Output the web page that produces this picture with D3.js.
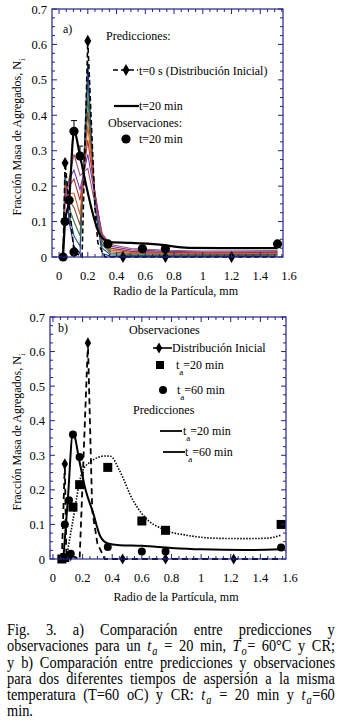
<!DOCTYPE html>
<html>
<head>
<meta charset="utf-8">
<script src="https://cdn.jsdelivr.net/npm/d3@7"></script>
<style>
  body { margin: 0; background: #fff; }
  svg { display: block; }
  text { font-family: "Liberation Serif", "Times New Roman", Times, serif; fill: #000; }
</style>
</head>
<body>
<div id="chart"></div>
<script>
// ---- data ----
const xTicks = [0, 0.2, 0.4, 0.6, 0.8, 1, 1.2, 1.4, 1.6];
const yTicks = [0, 0.1, 0.2, 0.3, 0.4, 0.5, 0.6, 0.7];

// panel a) initial distribution (dashed, diamonds)
const aInitX    = [0.028, 0.042, 0.104, 0.16, 0.2, 0.25, 0.27, 0.32, 0.445, 0.74, 1.2, 1.52];
const aInitY    = [0, 0.265, 0.015, 0, 0.61, 0.14, 0.04, 0, 0, 0, 0, 0];
const aInitMark = [0, 1, 1, 0, 1, 0, 0, 0, 1, 1, 1, 0];
// panel a) prediction t = 20 min
const aPredX = [0.028, 0.042, 0.07, 0.104, 0.146, 0.19, 0.23, 0.27, 0.31, 0.36, 0.5, 0.7, 0.9, 1.2, 1.52];
const aPredY = [0, 0.1, 0.16, 0.355, 0.285, 0.2, 0.13, 0.075, 0.05, 0.042, 0.04, 0.035, 0.026, 0.025, 0.025];
// panel a) observations t = 20 min
const aObsX   = [0.028, 0.042, 0.07, 0.104, 0.146, 0.104, 0.34, 0.58, 0.74, 1.52];
const aObsY   = [0, 0.1, 0.16, 0.355, 0.285, 0.014, 0.037, 0.023, 0.023, 0.037];
const aObsErr = [0, 0, 0, 0.03, 0.028, 0, 0, 0, 0, 0];
// panel a) intermediate time steps of the prediction
const aStepX = [0.028, 0.042, 0.07, 0.104, 0.146, 0.2, 0.25, 0.3, 0.36, 0.5, 0.75, 1.0, 1.52];
const aStepY = [
  [0, 0.24, 0.10, 0.03, 0.01, 0.55, 0.14, 0.010, 0.002, 0.001, 0.001, 0.001, 0.002],
  [0, 0.23, 0.12, 0.06, 0.03, 0.50, 0.16, 0.025, 0.006, 0.004, 0.004, 0.004, 0.005],
  [0, 0.22, 0.14, 0.10, 0.06, 0.45, 0.17, 0.035, 0.010, 0.007, 0.006, 0.006, 0.007],
  [0, 0.21, 0.16, 0.14, 0.09, 0.41, 0.18, 0.045, 0.015, 0.010, 0.009, 0.008, 0.009],
  [0, 0.20, 0.18, 0.18, 0.12, 0.37, 0.18, 0.055, 0.020, 0.013, 0.011, 0.010, 0.011],
  [0, 0.19, 0.20, 0.22, 0.16, 0.33, 0.18, 0.060, 0.025, 0.016, 0.013, 0.012, 0.013],
  [0, 0.17, 0.22, 0.245, 0.19, 0.29, 0.17, 0.065, 0.030, 0.020, 0.016, 0.014, 0.015],
  [0, 0.15, 0.22, 0.29, 0.23, 0.25, 0.15, 0.065, 0.035, 0.024, 0.019, 0.017, 0.018]
];
const aStepColors = ["#1a2a9c", "#2a5e6c", "#3a6e44", "#7a4a30", "#c8642c", "#b83030", "#6a3aa8", "#a85070"];

// panel b) initial distribution
const bInitX    = [0.06, 0.08, 0.09, 0.12, 0.18, 0.236, 0.265, 0.3, 0.35, 0.47, 0.76, 1.22, 1.54];
const bInitY    = [0, 0.275, 0.02, 0.01, 0, 0.625, 0.14, 0.045, 0, 0, 0, 0, 0];
const bInitMark = [0, 1, 0, 1, 0, 1, 0, 0, 0, 1, 1, 1, 0];
// panel b) observations
const bObs20X = [0.06, 0.08, 0.135, 0.18, 0.37, 0.6, 0.76, 1.54];
const bObs20Y = [0, 0.004, 0.15, 0.215, 0.265, 0.11, 0.083, 0.1];
const bObs60X = [0.07, 0.08, 0.108, 0.12, 0.135, 0.18, 0.37, 0.6, 0.76, 1.54];
const bObs60Y = [0, 0.1, 0.17, 0.015, 0.36, 0.295, 0.035, 0.022, 0.022, 0.033];
// panel b) predictions
const bPred20X = [0.09, 0.13, 0.2, 0.25, 0.3, 0.35, 0.39, 0.45, 0.54, 0.61, 0.76, 0.9, 1.1, 1.3, 1.44, 1.54];
const bPred20Y = [0, 0.1, 0.255, 0.28, 0.293, 0.298, 0.297, 0.255, 0.17, 0.126, 0.083, 0.069, 0.06, 0.059, 0.06, 0.069];
const bPred60X = [0.07, 0.1, 0.135, 0.18, 0.22, 0.27, 0.32, 0.37, 0.45, 0.6, 0.8, 1.0, 1.3, 1.54];
const bPred60Y = [0, 0.17, 0.365, 0.28, 0.2, 0.135, 0.065, 0.045, 0.04, 0.038, 0.032, 0.028, 0.026, 0.028];

const W = 338, H = 728;
const frameColor = "#23238c";

const svg = d3.select("#chart").append("svg")
    .attr("width", W).attr("height", H)
    .attr("font-family", "'Liberation Serif', 'Times New Roman', Times, serif")
    .style("background", "#fff");

const zip = (xs, ys) => xs.map((x, i) => [x, ys[i]]);

// frame, ticks and labels of one panel
function drawFrame(x, y, yTitleY, xTitleY) {
    const g = svg.append("g");
    const [x0, x1] = x.range(), [y1, y0] = y.range();
    g.append("rect")
        .attr("x", x0).attr("y", y0)
        .attr("width", x1 - x0).attr("height", y1 - y0)
        .attr("fill", "none").attr("stroke", frameColor).attr("stroke-width", 1.2);

    // y ticks every 0.025, major every 0.1
    d3.range(0, 0.7001, 0.025).forEach((v, i) => {
        const len = i % 4 === 0 ? 5 : 3;
        const py = y(v);
        g.append("line").attr("x1", x0).attr("x2", x0 + len).attr("y1", py).attr("y2", py)
            .attr("stroke", frameColor);
        g.append("line").attr("x1", x1).attr("x2", x1 - len).attr("y1", py).attr("y2", py)
            .attr("stroke", frameColor);
    });
    // x ticks every 0.05, major every 0.2
    d3.range(0, 1.6001, 0.05).forEach((v, i) => {
        const px = x(v);
        if (px < x0 || px > x1) return;
        const len = i % 4 === 0 ? 5 : 3;
        g.append("line").attr("x1", px).attr("x2", px).attr("y1", y0).attr("y2", y0 + len)
            .attr("stroke", frameColor);
        g.append("line").attr("x1", px).attr("x2", px).attr("y1", y1).attr("y2", y1 - len)
            .attr("stroke", frameColor);
    });

    const fmt = d3.format("~g");
    g.selectAll(".yl").data(yTicks).enter().append("text")
        .attr("x", x0 - 5).attr("y", d => y(d) + 4.5)
        .attr("text-anchor", "end").attr("font-size", 12.5)
        .text(fmt);
    g.selectAll(".xl").data(xTicks).enter().append("text")
        .attr("x", d => x(d)).attr("y", y1 + 23)
        .attr("text-anchor", "middle").attr("font-size", 12.5)
        .text(fmt);

    g.append("text")
        .attr("x", (x0 + x1) / 2 + 8).attr("y", xTitleY)
        .attr("text-anchor", "middle").attr("font-size", 12)
        .text("Radio de la Partícula, mm");

    const yt = g.append("text")
        .attr("transform", `translate(21, ${yTitleY}) rotate(-90)`)
        .attr("text-anchor", "middle").attr("font-size", 12);
    yt.append("tspan").text("Fracción Masa de Agregados, N");
    yt.append("tspan").attr("dy", 4).attr("font-size", 9).text("i");
    return g;
}

// text with a subscript: parts = [[text, isSub], ...]
function subText(g, px, py, parts, size) {
    const t = g.append("text").attr("x", px).attr("y", py).attr("font-size", size);
    let shifted = false;
    parts.forEach(([s, sub]) => {
        const sp = t.append("tspan").text(s);
        if (sub && !shifted) { sp.attr("dy", 6).attr("font-size", size * 0.75); shifted = true; }
        else if (!sub && shifted) { sp.attr("dy", -6); shifted = false; }
    });
    return t;
}

const diamond = d3.symbol().type(d3.symbolDiamond);

// ================= panel a =================
const xa = d3.scaleLinear().domain([-0.049, 1.558]).range([52, 283]);
const ya = d3.scaleLinear().domain([0, 0.7]).range([257, 9]);
const gA = svg.append("g");
const lineA = d3.line().x(d => xa(d[0])).y(d => ya(d[1]));

aStepY.forEach((ys, i) => {
    gA.append("path").datum(zip(aStepX, ys))
        .attr("d", lineA).attr("fill", "none")
        .attr("stroke", aStepColors[i]).attr("stroke-width", 1.1);
});
gA.append("path").datum(zip(aInitX, aInitY))
    .attr("d", lineA).attr("fill", "none")
    .attr("stroke", "#000").attr("stroke-width", 1.6).attr("stroke-dasharray", "5,3");
gA.selectAll(".dmA").data(zip(aInitX, aInitY).filter((d, i) => aInitMark[i])).enter()
    .append("path").attr("d", diamond.size(42)())
    .attr("transform", d => `translate(${xa(d[0])},${ya(d[1])})`).attr("fill", "#000");
gA.append("path").datum(zip(aPredX, aPredY))
    .attr("d", lineA.curve(d3.curveMonotoneX)).attr("fill", "none")
    .attr("stroke", "#000").attr("stroke-width", 2.2);
lineA.curve(d3.curveLinear);
// error bars
aObsX.forEach((xv, i) => {
    if (!aObsErr[i]) return;
    const top = ya(aObsY[i] + aObsErr[i]);
    gA.append("line").attr("x1", xa(xv)).attr("x2", xa(xv))
        .attr("y1", ya(aObsY[i])).attr("y2", top).attr("stroke", "#000");
    gA.append("line").attr("x1", xa(xv) - 3).attr("x2", xa(xv) + 3)
        .attr("y1", top).attr("y2", top).attr("stroke", "#000");
});
gA.selectAll(".obA").data(zip(aObsX, aObsY)).enter().append("circle")
    .attr("cx", d => xa(d[0])).attr("cy", d => ya(d[1])).attr("r", 4.6).attr("fill", "#000");

drawFrame(xa, ya, 137, 295);

// legend a
gA.append("text").attr("x", 63).attr("y", 33).attr("font-size", 12).text("a)");
gA.append("text").attr("x", 106).attr("y", 40).attr("font-size", 12).text("Predicciones:");
gA.append("line").attr("x1", 113).attr("x2", 138).attr("y1", 70).attr("y2", 70)
    .attr("stroke", "#000").attr("stroke-width", 1.6).attr("stroke-dasharray", "5,3");
gA.append("path").attr("d", diamond.size(42)()).attr("transform", "translate(126,70)");
gA.append("text").attr("x", 139).attr("y", 75).attr("font-size", 12).text("t=0 s (Distribución Inicial)");
gA.append("line").attr("x1", 114).attr("x2", 139).attr("y1", 106).attr("y2", 106)
    .attr("stroke", "#000").attr("stroke-width", 2.2);
gA.append("text").attr("x", 139).attr("y", 110).attr("font-size", 12).text("t=20 min");
gA.append("text").attr("x", 108).attr("y", 127).attr("font-size", 12).text("Observaciones:");
gA.append("circle").attr("cx", 126).attr("cy", 139).attr("r", 4.6);
gA.append("text").attr("x", 139).attr("y", 143).attr("font-size", 12).text("t=20 min");

// ================= panel b =================
const xb = d3.scaleLinear().domain([-0.02, 1.573]).range([50, 286]);
const yb = d3.scaleLinear().domain([0, 0.7]).range([559, 317]);
const gB = svg.append("g");
const lineB = d3.line().x(d => xb(d[0])).y(d => yb(d[1]));

gB.append("path").datum(zip(bInitX, bInitY))
    .attr("d", lineB).attr("fill", "none")
    .attr("stroke", "#000").attr("stroke-width", 1.8).attr("stroke-dasharray", "6,4");
gB.append("path").datum(zip(bPred20X, bPred20Y))
    .attr("d", d3.line().x(d => xb(d[0])).y(d => yb(d[1])).curve(d3.curveMonotoneX))
    .attr("fill", "none").attr("stroke", "#000").attr("stroke-width", 1.6)
    .attr("stroke-dasharray", "1.5,1.5");
gB.append("path").datum(zip(bPred60X, bPred60Y))
    .attr("d", d3.line().x(d => xb(d[0])).y(d => yb(d[1])).curve(d3.curveMonotoneX))
    .attr("fill", "none").attr("stroke", "#000").attr("stroke-width", 2);
gB.selectAll(".dmB").data(zip(bInitX, bInitY).filter((d, i) => bInitMark[i])).enter()
    .append("path").attr("d", diamond.size(36)())
    .attr("transform", d => `translate(${xb(d[0])},${yb(d[1])})`).attr("fill", "#000");
gB.selectAll(".sqB").data(zip(bObs20X, bObs20Y)).enter().append("rect")
    .attr("x", d => xb(d[0]) - 4.5).attr("y", d => yb(d[1]) - 4.5)
    .attr("width", 9).attr("height", 9).attr("fill", "#000");
gB.selectAll(".ciB").data(zip(bObs60X, bObs60Y)).enter().append("circle")
    .attr("cx", d => xb(d[0])).attr("cy", d => yb(d[1])).attr("r", 4).attr("fill", "#000");

drawFrame(xb, yb, 432, 601);

// legend b
gB.append("text").attr("x", 58).attr("y", 332).attr("font-size", 12).text("b)");
gB.append("text").attr("x", 129).attr("y", 334).attr("font-size", 12).text("Observaciones");
gB.append("line").attr("x1", 153).attr("x2", 172).attr("y1", 348).attr("y2", 348)
    .attr("stroke", "#000").attr("stroke-width", 1.6);
gB.append("path").attr("d", diamond.size(36)()).attr("transform", "translate(159,348)");
gB.append("text").attr("x", 172).attr("y", 352).attr("font-size", 12).text("Distribución Inicial");
gB.append("rect").attr("x", 156).attr("y", 361).attr("width", 8).attr("height", 8);
subText(gB, 176, 369, [["t", false], ["a", true], ["=20 min", false]], 12);
gB.append("circle").attr("cx", 163).attr("cy", 390).attr("r", 4);
subText(gB, 177, 394, [["t", false], ["a", true], ["=60 min", false]], 12);
gB.append("text").attr("x", 133).attr("y", 414).attr("font-size", 12).text("Predicciones");
gB.append("line").attr("x1", 160).attr("x2", 182).attr("y1", 431).attr("y2", 431)
    .attr("stroke", "#000").attr("stroke-width", 1.8);
subText(gB, 183, 435, [["t", false], ["a", true], ["=20 min", false]], 12);
gB.append("line").attr("x1", 163).attr("x2", 185).attr("y1", 452).attr("y2", 452)
    .attr("stroke", "#000").attr("stroke-width", 1.8);
subText(gB, 185, 456, [["t", false], ["a", true], ["=60 min", false]], 12);

// ================= caption (justified word by word) =================
const capLines = [
    ["Fig.", "3.", "a)", "Comparación", "entre", "predicciones", "y"],
    ["observaciones", "para", "un", [["t", "i"], ["a", "si"]], "=", "20", "min,",
        [["T", "i"], ["o", "si"], ["=", ""]], "60°C", "y", "CR;"],
    ["y", "b)", "Comparación", "entre", "predicciones", "y", "observaciones"],
    ["para", "dos", "diferentes", "tiempos", "de", "aspersión", "a", "la", "misma"],
    ["temperatura", "(T=60", "oC)", "y", "CR:", [["t", "i"], ["a", "si"]], "=", "20", "min", "y",
        [["t", "i"], ["a", "si"], ["=60", ""]]],
    ["min."]
];
// glyphs in the caption are a little taller than wide, hence the vertical stretch
const capLeft = 7, capRight = 335, capTop = 635, capStep = 16.3, capSize = 14.4, capStretch = 1.15;
const gC = svg.append("g")
    .attr("transform", `translate(0, ${capTop}) scale(1, ${capStretch})`);
capLines.forEach((words, li) => {
    const yy = li * capStep / capStretch;
    const nodes = words.map(w => {
        const t = gC.append("text").attr("x", 0).attr("y", yy).attr("font-size", capSize);
        const parts = typeof w === "string" ? [[w, ""]] : w;
        let down = false;
        parts.forEach(([s, st]) => {
            const sp = t.append("tspan").text(s);
            if (st.includes("i")) sp.attr("font-style", "italic");
            if (st.includes("s")) {
                sp.attr("font-size", capSize * 0.72).attr("dy", 3).attr("dx", 1);
                down = true;
            } else if (down) { sp.attr("dy", -3).attr("dx", 0.5); down = false; }
        });
        return t;
    });
    // use the drawn box so italic overhang is counted
    const widths = nodes.map(n => {
        const b = n.node().getBBox();
        return Math.max(b.x + b.width, n.node().getComputedTextLength());
    });
    const total = d3.sum(widths);
    const last = li === capLines.length - 1;
    let gap = last || nodes.length < 2 ? 4 : (capRight - capLeft - total) / (nodes.length - 1);
    gap = Math.max(gap, 3);
    let cx = capLeft;
    nodes.forEach((n, i) => { n.attr("x", cx); cx += widths[i] + gap; });
});
</script>
</body>
</html>
